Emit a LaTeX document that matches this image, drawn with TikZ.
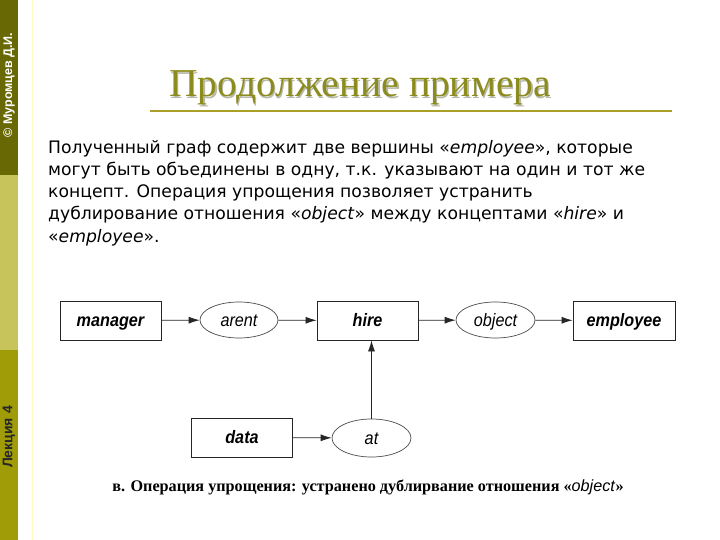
\documentclass[tikz,border=0pt]{standalone}
\usepackage{fontspec}
\setmainfont{Liberation Serif}
\setsansfont{Liberation Sans}
\newfontfamily\bodyfont{DejaVu Sans}
\newfontfamily\labelfont[FakeStretch=0.9]{Liberation Sans}
\usepackage{tikz}
\usetikzlibrary{arrows.meta, positioning, shapes.geometric}
\definecolor{olvdark}{RGB}{104, 104, 4}
\definecolor{olvlight}{RGB}{200, 196, 92}
\definecolor{olvmid}{RGB}{160, 156, 8}
\definecolor{olvtitle}{RGB}{140, 140, 30}
\definecolor{olvline}{RGB}{170, 160, 40}

\begin{document}
\begin{tikzpicture}[
    x=1pt, y=-1pt,
    concept/.style={
        rectangle, draw=black!85, line width=0.8pt, fill=white,
        minimum width=101pt, minimum height=39pt,
        text height=14.5pt, text depth=3.5pt,
        font=\labelfont\bfseries\itshape\fontsize{18}{20}\selectfont
    },
    relation/.style={
        ellipse, draw=black!70, line width=0.7pt, fill=white,
        minimum width=79pt, minimum height=36pt, inner sep=0pt,
        text height=16pt, text depth=3.5pt,
        font=\labelfont\itshape\fontsize{18}{20}\selectfont
    },
    arr/.style={-{Latex[length=11pt, width=7pt]}, line width=0.8pt, black!85},
    bodyline/.style={anchor=base west, inner sep=0pt,
        font=\bodyfont\fontsize{17.2}{20}\selectfont}
]
\useasboundingbox (0,0) rectangle (720,540);
\fill[white] (0,0) rectangle (720,540);

% side bar
\fill[olvdark] (0,0) rectangle (18,175);
\fill[olvlight] (0,175) rectangle (18,350);
\fill[olvmid] (0,350) rectangle (18,540);
\draw[yellow!25, line width=1pt] (32,0) -- (32,540);
\node[rotate=90, white, font=\sffamily\bfseries\fontsize{12.5}{14}\selectfont] (author) at (9,85) {© Муромцев Д.И.};
\node[rotate=90, black!85, font=\sffamily\bfseries\fontsize{14}{16}\selectfont] (lecture) at (9,437) {Лекция 4};

% title
\node[olvtitle!40!black, opacity=0.35, font=\fontsize{39.5}{44}\selectfont] (titleshadow) at (361.5,89.5) {Продолжение примера};
\node[olvtitle, font=\fontsize{39.5}{44}\selectfont] (title) at (360,88) {Продолжение примера};
\draw[olvline, line width=2pt] (150,111) -- (672,111);

% text
\node[bodyline] (l1) at (48,154) {Полученный граф содержит две вершины «\textit{employee}», которые};
\node[bodyline] (l2) at (48,176) {могут быть объединены в одну, т.к. указывают на один и тот же};
\node[bodyline] (l3) at (48,198) {концепт. Операция упрощения позволяет устранить};
\node[bodyline] (l4) at (48,220) {дублирование отношения «\textit{object}» между концептами «\textit{hire}» и};
\node[bodyline] (l5) at (48,242) {«\textit{employee}».};

% graph
\node[concept] (manager) at (110.5,320.5) {manager};
\node[relation, minimum width=78pt] (arent) at (239,320) {arent};
\node[concept] (hire) at (367.5,320.5) {hire};
\node[relation] (object) at (495.5,320) {object};
\node[concept, minimum width=102pt] (employee) at (624,320.5) {employee};
\node[concept] (data) at (242,437.5) {data};
\node[relation, minimum height=38pt] (at) at (371.5,438) {at};

\draw[arr] (manager) -- (arent);
\draw[arr] (arent) -- (hire);
\draw[arr] (hire) -- (object);
\draw[arr] (object) -- (employee);
\draw[arr] (data) -- (at);
\draw[arr] (at) -- (at |- hire.south);

% caption
\node[font=\bfseries\fontsize{16.2}{18}\selectfont] (caption) at (368,487)
    {в. Операция упрощения: устранено дублирвание отношения «\textnormal{\sffamily\itshape object}»};
\end{tikzpicture}
\end{document}
